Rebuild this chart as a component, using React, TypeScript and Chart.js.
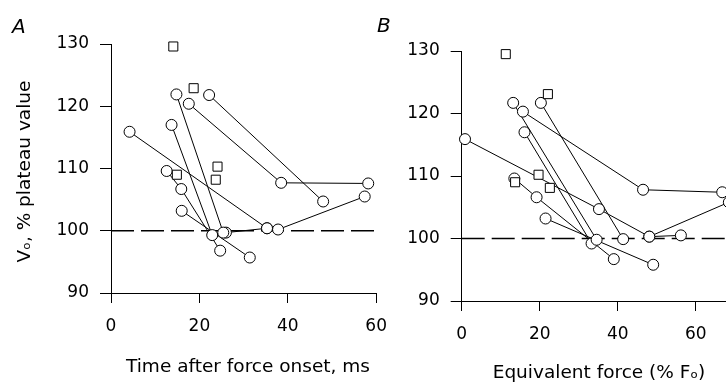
import React, { useEffect, useRef } from "react";
import { Chart, registerables } from "chart.js";

Chart.register(...registerables);

// ---------- Panel A: Time after force onset (ms) vs Vo (% plateau value) ----------
const A_series1 = [[4.2, 115.9], [35.3, 100.4]];
const A_series2 = [[17.6, 120.4], [38.5, 107.7], [58.2, 107.6]];
const A_series3 = [[22.2, 121.8], [48.0, 104.7]];
const A_series4 = [[14.8, 121.9], [25.4, 99.7]];
const A_series5 = [[13.7, 117.0], [22.9, 99.3]];
const A_series6 = [[12.6, 109.6], [15.9, 106.7], [24.7, 96.8]];
const A_series7 = [[16.0, 103.2], [31.4, 95.7]];
const A_series8 = [[37.8, 100.2], [57.4, 105.5]];
const A_series9 = [[26.0, 99.7], [35.3, 100.4]];
const A_squares = [[14.1, 129.6], [18.7, 122.9], [14.9, 109.0], [23.7, 108.2], [24.1, 110.3]];

// ---------- Panel B: Equivalent force (% Fo) vs Vo ----------
const B_series1 = [[0.85, 115.9], [35.2, 104.7], [48.1, 100.3], [68.5, 105.8]];
const B_series2 = [[15.7, 120.3], [46.5, 107.8], [66.8, 107.4]];
const B_series3 = [[13.2, 121.7], [34.6, 99.8]];
const B_series4 = [[16.1, 117.0], [33.3, 99.2]];
const B_series5 = [[20.3, 121.7], [41.4, 99.9]];
const B_series6 = [[13.5, 109.6], [19.2, 106.6], [39.0, 96.7]];
const B_series7 = [[21.5, 103.2], [49.1, 95.8]];
const B_series8 = [[48.1, 100.3], [56.2, 100.5]];
const B_squares = [[11.3, 129.5], [22.1, 123.1], [13.7, 109.0], [19.7, 110.2], [22.6, 108.1]];

const Y_TICKS = [90, 100, 110, 120, 130];
const X_TICKS_A = [0, 20, 40, 60];
const X_TICKS_B = [0, 20, 40, 60, 80];
const REFERENCE_LEVEL = 100;

const FONT = "'DejaVu Sans', sans-serif";

const toPts = (arr: number[][]) => arr.map(([x, y]) => ({ x, y }));

const lineDS = (arr: number[][]) => ({
  type: "scatter" as const,
  data: toPts(arr),
  showLine: true,
  borderColor: "#000",
  borderWidth: 1,
  pointRadius: 5.5,
  pointStyle: "circle",
  pointBackgroundColor: "#fff",
  pointBorderColor: "#000",
  pointBorderWidth: 1,
  clip: false as const,
  order: 1,
});

const squareDS = (arr: number[][]) => ({
  type: "scatter" as const,
  data: toPts(arr),
  showLine: false,
  pointRadius: 6.4,
  pointStyle: "rect",
  pointBackgroundColor: "#fff",
  pointBorderColor: "#000",
  pointBorderWidth: 1,
  clip: false as const,
  order: 0,
});

const dashDS = (xMax: number) => ({
  type: "scatter" as const,
  data: [
    { x: 0, y: REFERENCE_LEVEL },
    { x: xMax, y: REFERENCE_LEVEL },
  ],
  showLine: true,
  borderColor: "#000",
  borderWidth: 1.6,
  borderDash: [23, 7],
  pointRadius: 0,
  order: 5,
});

const textPlugin = {
  id: "panelText",
  afterDraw(chart: any, _args: any, opts: any) {
    const ctx = chart.ctx;
    for (const t of opts.items || []) {
      ctx.save();
      ctx.font = t.font;
      ctx.fillStyle = "#000";
      ctx.textAlign = t.align;
      ctx.textBaseline = "alphabetic";
      ctx.translate(t.x, t.y);
      if (t.rotate) ctx.rotate(t.rotate);
      ctx.fillText(t.text, 0, 0);
      ctx.restore();
    }
  },
};

function makeConfig(opts: {
  lines: number[][][];
  squares: number[][];
  xMax: number;
  xTicks: number[];
  yWidth: number;
  xHeight: number;
  padTop: number;
  padRight: number;
  items: any[];
}) {
  const tickFont = { family: FONT, size: 17 };
  return {
    type: "scatter" as const,
    data: {
      datasets: [
        squareDS(opts.squares),
        ...opts.lines.map(lineDS),
        dashDS(opts.xMax),
      ],
    },
    options: {
      responsive: false,
      animation: false as const,
      devicePixelRatio: 1,
      events: [],
      layout: { padding: { left: 0, top: opts.padTop, right: opts.padRight, bottom: 0 } },
      plugins: {
        legend: { display: false },
        tooltip: { enabled: false },
        panelText: { items: opts.items },
      },
      scales: {
        x: {
          type: "linear" as const,
          min: 0,
          max: opts.xMax,
          afterBuildTicks: (s: any) => {
            s.ticks = opts.xTicks.map((v) => ({ value: v }));
          },
          afterFit: (s: any) => {
            s.height = opts.xHeight;
          },
          ticks: { font: tickFont, color: "#000", padding: 13, maxRotation: 0 },
          grid: { drawOnChartArea: false, drawTicks: true, tickLength: 10, color: "#000", lineWidth: 1 },
          border: { display: true, color: "#000", width: 1 },
        },
        y: {
          type: "linear" as const,
          min: 90,
          max: 130,
          afterBuildTicks: (s: any) => {
            s.ticks = Y_TICKS.map((v) => ({ value: v }));
          },
          afterFit: (s: any) => {
            s.width = opts.yWidth;
          },
          ticks: { font: tickFont, color: "#000", padding: 11 },
          grid: { drawOnChartArea: false, drawTicks: true, tickLength: 11, color: "#000", lineWidth: 1 },
          border: { display: true, color: "#000", width: 1 },
        },
      },
    },
    plugins: [textPlugin],
  };
}

const TITLE_FONT = `18.5px ${FONT}`;
const LETTER_FONT = `italic 20px ${FONT}`;

export default function App() {
  const refA = useRef<HTMLCanvasElement>(null);
  const refB = useRef<HTMLCanvasElement>(null);

  useEffect(() => {
    const cfgA = makeConfig({
      lines: [A_series1, A_series2, A_series3, A_series4, A_series5, A_series6, A_series7, A_series8, A_series9],
      squares: A_squares,
      xMax: 60,
      xTicks: X_TICKS_A,
      yWidth: 111,
      xHeight: 89,
      padTop: 44,
      padRight: 16,
      items: [
        { text: "A", x: 12, y: 33, font: LETTER_FONT, align: "left" },
        { text: "Time after force onset, ms", x: 248, y: 371.5, font: TITLE_FONT, align: "center" },
        { text: "Vₒ, % plateau value", x: 29.5, y: 171.5, font: TITLE_FONT, align: "center", rotate: -Math.PI / 2 },
      ],
    });
    const cfgB = makeConfig({
      lines: [B_series1, B_series2, B_series3, B_series4, B_series5, B_series6, B_series7, B_series8],
      squares: B_squares,
      xMax: 80,
      xTicks: X_TICKS_B,
      yWidth: 91.7,
      xHeight: 81,
      padTop: 51,
      padRight: 26.3,
      items: [
        { text: "B", x: 7, y: 32, font: LETTER_FONT, align: "left" },
        { text: "Equivalent force (% Fₒ)", x: 229, y: 378, font: TITLE_FONT, align: "center" },
      ],
    });
    const a = new Chart(refA.current as HTMLCanvasElement, cfgA as any);
    const b = new Chart(refB.current as HTMLCanvasElement, cfgB as any);
    return () => {
      a.destroy();
      b.destroy();
    };
  }, []);

  return (
    <div
      style={{
        position: "fixed",
        left: 0,
        top: 0,
        width: 726,
        height: 382,
        overflow: "hidden",
        background: "#fff",
      }}
    >
      <canvas
        ref={refA}
        width={400}
        height={382}
        style={{ position: "absolute", left: 0, top: 0, width: 400, height: 382 }}
      />
      <canvas
        ref={refB}
        width={430}
        height={382}
        style={{ position: "absolute", left: 370, top: 0, width: 430, height: 382 }}
      />
    </div>
  );
}
